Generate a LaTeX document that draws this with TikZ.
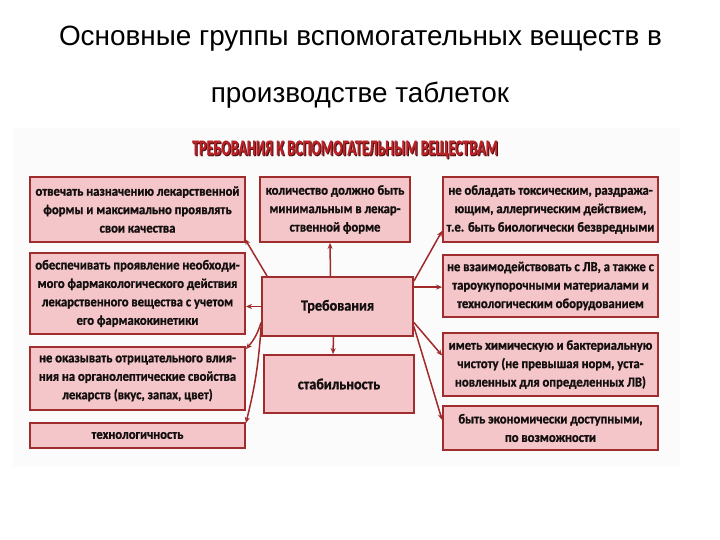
\documentclass[tikz,border=0pt]{standalone}
\usepackage{fontspec}
\setmainfont{Liberation Sans}
\newfontfamily\boxfont[FakeStretch=0.92,FakeBold=1.2]{Carlito}
\newfontfamily\hdrfont[FakeStretch=0.64,FakeBold=0.8]{Carlito}
\usetikzlibrary{shadows,calc,arrows.meta}
\definecolor{boxfill}{RGB}{244,198,202}
\definecolor{boxline}{RGB}{160,45,45}
\definecolor{boxshadow}{RGB}{100,35,35}
\definecolor{arrowc}{RGB}{160,42,42}
\definecolor{hdrred}{RGB}{185,35,40}
\definecolor{hdrshadow}{RGB}{80,15,15}
\definecolor{panelc}{RGB}{251,251,251}
\definecolor{txt}{RGB}{20,15,15}
\tikzset{
  box/.style={draw=boxline, line width=1.8bp, fill=boxfill,
    drop shadow={shadow xshift=1.3bp, shadow yshift=-1.3bp, fill=boxshadow, opacity=0.9},
    align=center, text=txt, inner sep=2bp,
    font=\boxfont\bfseries\fontsize{13.8}{18.5}\selectfont},
  bigbox/.style={box, font=\boxfont\bfseries\fontsize{15.5}{18}\selectfont},
  arr/.style={draw=arrowc, line width=1.5bp, -{Stealth[length=6bp,width=5bp]}},
  titletext/.style={font=\fontsize{28}{32}\selectfont, text=black, anchor=base, inner sep=0pt},
}
\begin{document}
\begin{tikzpicture}[x=1bp, y=-1bp]
\useasboundingbox[fill=white] (0,0) rectangle (720,540);
% titles
\node[titletext] (T1) at (360.5,46) {Основные группы вспомогательных веществ в};
\node[titletext] (T2) at (360,103) {производстве таблеток};
% panel
\fill[panelc] (13,128) rectangle (680,467);
% header
\node[font=\hdrfont\bfseries\fontsize{22}{24}\selectfont, inner sep=0pt] (H) at (345,150)
  {\makebox[0pt][l]{\raisebox{-1bp}{\hspace{1bp}\textcolor{hdrshadow}{ТРЕБОВАНИЯ К ВСПОМОГАТЕЛЬНЫМ ВЕЩЕСТВАМ}}}\textcolor{hdrred}{ТРЕБОВАНИЯ К ВСПОМОГАТЕЛЬНЫМ ВЕЩЕСТВАМ}};
% left column
\node[box, minimum width=215bp, minimum height=65bp] (L1) at (137.5,209.5)
  {отвечать назначению лекарственной\\формы и максимально проявлять\\свои качества};
\node[box, minimum width=215bp, minimum height=81bp] (L2) at (137.5,293.5)
  {обеспечивать проявление необходи-\\мого фармакологического действия\\лекарственного вещества с учетом\\его фармакокинетики};
\node[box, minimum width=215bp, minimum height=63bp] (L3) at (137.5,378.5)
  {не оказывать отрицательного влия-\\ния на органолептические свойства\\лекарств (вкус, запах, цвет)};
\node[box, minimum width=215bp, minimum height=25bp] (L4) at (137.5,435.5)
  {технологичность};
% middle column
\node[box, minimum width=150bp, minimum height=65bp] (M1) at (335,209.5)
  {количество должно быть\\минимальным в лекар-\\ственной форме};
\node[bigbox, minimum width=151bp, minimum height=59bp] (M2) at (337.5,306.5)
  {Требования};
\node[bigbox, minimum width=150bp, minimum height=58bp] (M3) at (339,384)
  {стабильность};
% right column
\node[box, minimum width=215bp, minimum height=65bp] (R1) at (550.5,209.5)
  {не обладать токсическим, раздража-\\ющим, аллергическим действием,\\т.е. быть биологически безвредными};
\node[box, minimum width=215bp, minimum height=62bp] (R2) at (550.5,286)
  {не взаимодействовать с ЛВ, а также с\\тароукупорочными материалами и\\технологическим оборудованием};
\node[box, minimum width=215bp, minimum height=63bp] (R3) at (550.5,364.5)
  {иметь химическую и бактериальную\\чистоту (не превышая норм, уста-\\новленных для определенных ЛВ)};
\node[box, minimum width=215bp, minimum height=44bp] (R4) at (550.5,428)
  {быть экономически доступными,\\по возможности};
% arrows
\draw[arr] ($(M2.north west)+(6,0)$) -- ($(L1.south east)+(-1,-4)$);
\draw[arr] ($(M2.north)+(-7,0)$) -- ($(M1.south)+(-5,0)$);
\draw[arr] (M2.west) -- (M2.west -| L2.east);
\draw[arr] ($(M2.west)+(0,16)$) to[bend left=12] ($(L3.north east)+(0,3)$);
\draw[arr] ($(M2.west)+(0,20)$) to[bend left=5] ($(L4.north east)+(0,1)$);
\draw[arr] ($(M2.south)+(-4,0)$) -- ($(M3.north)+(-6,0)$);
\draw[arr] ($(M2.north east)+(0,5)$) -- ($(R1.south west)+(0,-12)$);
\draw[arr] ($(M2.north east)+(0,11)$) -- ($(R1.south west |- M2.north east)+(0,11)$);
\draw[arr] ($(M2.east)+(0,16)$) -- ($(R3.west)+(0,-9)$);
\draw[arr] ($(M2.east)+(0,20)$) -- ($(R4.west)+(0,-8)$);
\end{tikzpicture}
\end{document}
